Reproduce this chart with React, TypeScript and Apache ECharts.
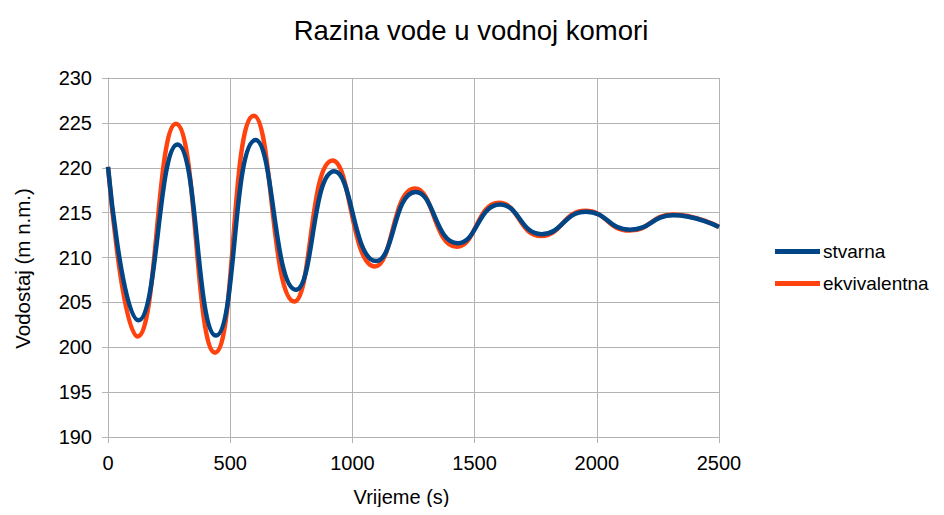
import React, { useEffect, useRef } from "react";
import * as echarts from "echarts";

const titleText = "Razina vode u vodnoj komori";
const xAxisName = "Vrijeme (s)";
const yAxisName = "Vodostaj (m n.m.)";
const seriesNames = ["stvarna", "ekvivalentna"];

const stvarnaTime = [0, 125, 284, 442, 604, 769, 926, 1097, 1259, 1431, 1604, 1774, 1956, 2136, 2313, 2500];
const stvarnaLevel = [220.1, 203.0, 222.6, 201.3, 223.1, 206.4, 219.6, 209.6, 217.3, 211.6, 215.9, 212.6, 215.1, 213.1, 214.7, 213.4];

const ekvTime = [0, 121, 278, 438, 597, 762, 919, 1092, 1256, 1427, 1600, 1772, 1953, 2134, 2311, 2500];
const ekvLevel = [220.1, 201.2, 224.9, 199.4, 225.8, 205.1, 220.8, 209.0, 217.7, 211.2, 216.1, 212.4, 215.2, 213.0, 214.8, 213.4];

const colors = ["#004586", "#ff420e"];

export default function App() {
  const ref = useRef<HTMLDivElement>(null);
  useEffect(() => {
    if (!ref.current) return;
    const chart = echarts.init(ref.current, null, { renderer: "svg" });
    const font = "'Liberation Sans', Arial, sans-serif";
    chart.setOption({
      animation: false,
      backgroundColor: "#ffffff",
      textStyle: { fontFamily: font },
      title: {
        text: titleText,
        left: 466,
        textAlign: "center",
        top: 11,
        textStyle: { fontSize: 27.5, fontWeight: "normal", color: "#000", fontFamily: font },
      },
      grid: { left: 108, top: 78, right: 225, bottom: 78, containLabel: false },
      legend: {
        orient: "vertical",
        left: 770,
        top: 237,
        itemWidth: 45,
        itemHeight: 5,
        itemGap: 13,
        icon: "rect",
        data: seriesNames,
        textStyle: { fontSize: 19, color: "#000", fontFamily: font, padding: [0, 0, 0, -2] },
      },
      xAxis: {
        type: "value",
        min: 0,
        max: 2500,
        interval: 500,
        name: xAxisName,
        nameLocation: "middle",
        nameGap: 50,
        nameTextStyle: { fontSize: 20, color: "#000", fontFamily: font, padding: [0, 24, 0, 0] },
        axisLine: { show: true, lineStyle: { color: "#b3b3b3", width: 1 } },
        axisTick: { show: true, length: 6, lineStyle: { color: "#b3b3b3" } },
        axisLabel: { fontSize: 20, color: "#000", margin: 16, fontFamily: font, formatter: (v: number) => String(v) },
        splitLine: { show: true, lineStyle: { color: "#b3b3b3", width: 1 } },
      },
      yAxis: {
        type: "value",
        min: 190,
        max: 230,
        interval: 5,
        name: yAxisName,
        nameLocation: "middle",
        nameGap: 75,
        nameRotate: 90,
        nameTextStyle: { fontSize: 20.5, color: "#000", fontFamily: font, padding: [0, 22, 0, 0] },
        axisLine: { show: true, lineStyle: { color: "#b3b3b3", width: 1 } },
        axisTick: { show: true, length: 6, lineStyle: { color: "#b3b3b3" } },
        axisLabel: { fontSize: 20, color: "#000", margin: 16, fontFamily: font, formatter: (v: number) => String(v) },
        splitLine: { show: true, lineStyle: { color: "#b3b3b3", width: 1 } },
      },
      series: [
        {
          name: seriesNames[0],
          type: "line",
          z: 4,
          data: stvarnaTime.map((t, i) => [t, stvarnaLevel[i]]),
          smooth: 0.5,
          showSymbol: false,
          symbol: "none",
          color: colors[0],
          lineStyle: { width: 4.5, color: colors[0] },
        },
        {
          name: seriesNames[1],
          type: "line",
          z: 3,
          data: ekvTime.map((t, i) => [t, ekvLevel[i]]),
          smooth: 0.5,
          showSymbol: false,
          symbol: "none",
          color: colors[1],
          lineStyle: { width: 4.5, color: colors[1] },
        },
      ],
    });
    return () => chart.dispose();
  }, []);
  return <div ref={ref} style={{ width: 944, height: 515, margin: -8 }} />;
}
